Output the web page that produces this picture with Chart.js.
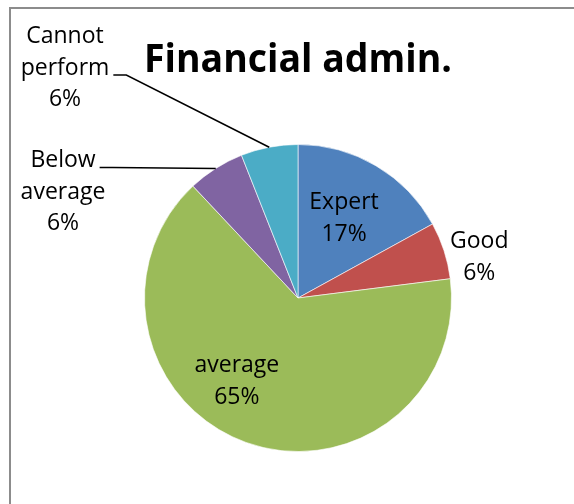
<!DOCTYPE html>
<html>
<head>
<meta charset="utf-8">
<title>Financial admin.</title>
<style>
  html, body { margin: 0; padding: 0; background: #ffffff; }
  #wrap { position: relative; width: 574px; height: 504px; }
  canvas { display: block; }
</style>
<script src="https://cdn.jsdelivr.net/npm/chart.js@4/dist/chart.umd.min.js"></script>
</head>
<body>
<div id="wrap"><canvas id="chart" width="574" height="504"></canvas></div>
<script>
// ---- data ----
const chartTitle = 'Financial admin.';
const categories = ['Expert', 'Good', 'average', 'Below average', 'Cannot perform'];
const shares = [17, 6, 65, 6, 6];
const sliceColors = ['#4F81BD', '#C0504D', '#9BBB59', '#8064A2', '#4BACC6'];
// how each category name is broken over lines in its label
const labelLines = [['Expert'], ['Good'], ['average'], ['Below', 'average'], ['Cannot', 'perform']];

// ---- label layout ----
// polar labels: r = fraction of the radius, t = position along the slice's sweep
// leader labels: text block offset from the pie centre, leader drawn to the slice's outer mid-point
const labelLayout = [
  { r: 0.60, t: 0.49 },
  { r: 1.21, t: 0.75 },
  { r: 0.675, t: 0.57 },
  { dx: -235, dy: -106, attachLine: 0 },
  { dx: -233, dy: -230, attachLine: 1 }
];

const LABEL_FONT = '23px "Open Sans", "Noto Sans", sans-serif';
const LINE_STEP = 31.5;

const frame = {
  id: 'frame',
  beforeDraw(chart) {
    const ctx = chart.ctx;
    ctx.save();
    ctx.strokeStyle = '#8c8c8c';
    ctx.lineWidth = 2;
    ctx.beginPath();
    ctx.moveTo(10, chart.height);
    ctx.lineTo(10, 8);
    ctx.lineTo(chart.width, 8);
    ctx.stroke();
    ctx.restore();
  }
};

const sliceLabels = {
  id: 'sliceLabels',
  afterDatasetsDraw(chart) {
    const ctx = chart.ctx;
    const arcs = chart.getDatasetMeta(0).data;
    const total = shares.reduce((a, b) => a + b, 0);
    ctx.save();
    ctx.font = LABEL_FONT;
    ctx.fillStyle = '#000000';
    ctx.textAlign = 'center';
    ctx.textBaseline = 'middle';
    arcs.forEach((arc, i) => {
      const p = arc.getProps(['x', 'y', 'startAngle', 'endAngle', 'outerRadius'], true);
      const lines = labelLines[i].concat([Math.round(shares[i] / total * 100) + '%']);
      const lay = labelLayout[i];
      let cx, cy;
      if (lay.r !== undefined) {
        const a = p.startAngle + lay.t * (p.endAngle - p.startAngle);
        cx = p.x + Math.cos(a) * lay.r * p.outerRadius;
        cy = p.y + Math.sin(a) * lay.r * p.outerRadius;
      } else {
        cx = p.x + lay.dx;
        cy = p.y + lay.dy;
      }
      const top = cy - (lines.length - 1) * LINE_STEP / 2;
      lines.forEach((ln, k) => ctx.fillText(ln, cx, top + k * LINE_STEP));

      if (lay.attachLine !== undefined) {
        const ln = lines[lay.attachLine];
        const w = ctx.measureText(ln).width;
        const sx = cx + w / 2 + 4;
        const sy = top + lay.attachLine * LINE_STEP + 7;
        const mid = (p.startAngle + p.endAngle) / 2;
        const ex = p.x + Math.cos(mid) * p.outerRadius;
        const ey = p.y + Math.sin(mid) * p.outerRadius;
        ctx.strokeStyle = '#000000';
        ctx.lineWidth = 1.5;
        ctx.beginPath();
        ctx.moveTo(sx, sy);
        ctx.lineTo(sx + 13, sy);
        ctx.lineTo(ex, ey);
        ctx.stroke();
      }
    });
    ctx.restore();
  }
};

new Chart(document.getElementById('chart'), {
  type: 'pie',
  data: {
    labels: categories,
    datasets: [{
      data: shares,
      backgroundColor: sliceColors,
      borderColor: 'rgba(255,255,255,0.6)',
      borderWidth: 1
    }]
  },
  options: {
    responsive: false,
    animation: false,
    events: [],
    layout: { padding: { left: 144, right: 122, top: 0, bottom: 52 } },
    plugins: {
      legend: { display: false },
      tooltip: { enabled: false },
      title: {
        display: true,
        text: chartTitle,
        color: '#000000',
        font: { family: '"Open Sans", "Noto Sans", sans-serif', size: 39, weight: 'bold', lineHeight: 1.2 },
        padding: { top: 37, bottom: 60.2 }
      }
    }
  },
  plugins: [frame, sliceLabels]
});
</script>
</body>
</html>
